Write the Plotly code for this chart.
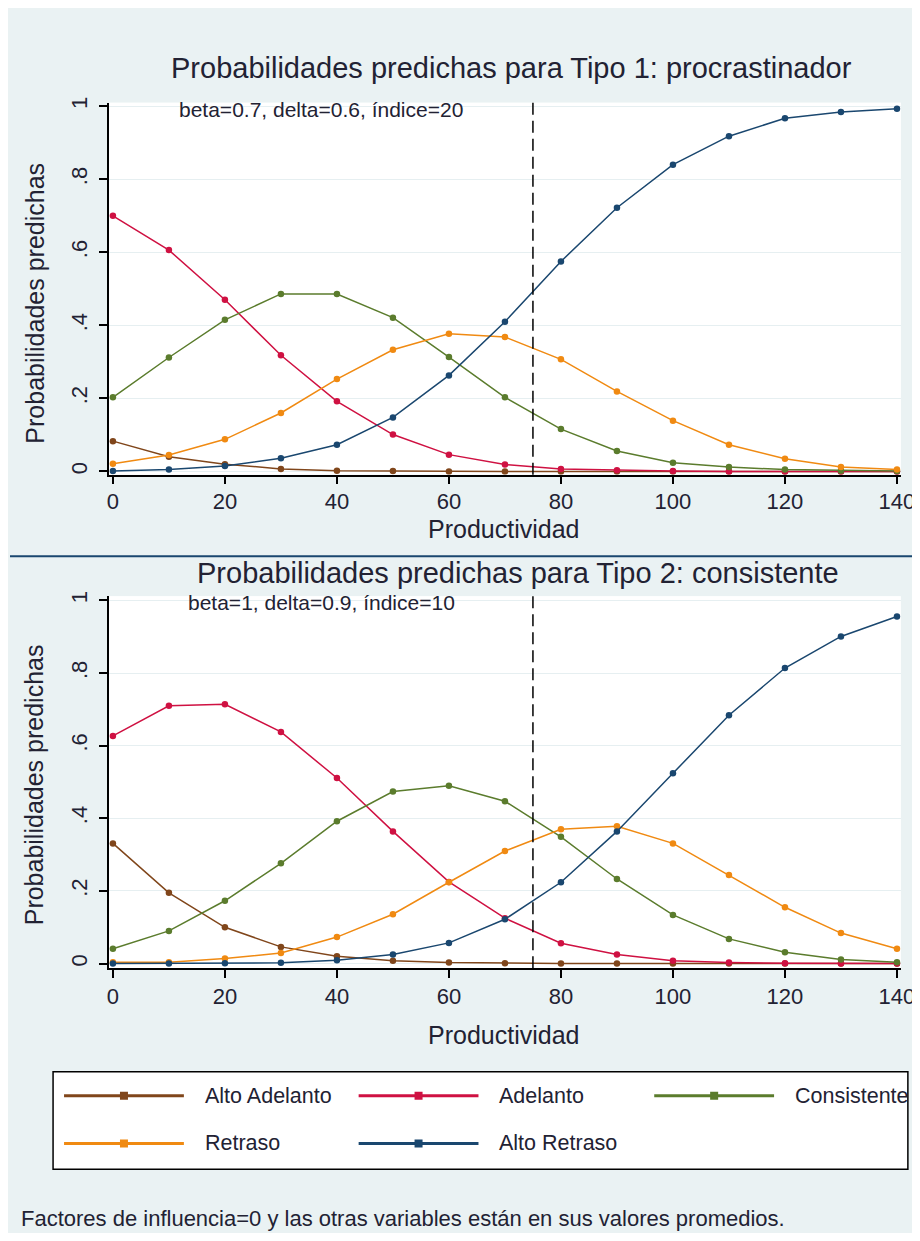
import plotly.graph_objects as go

# ---------------- data ----------------
productividad = [0, 10, 20, 30, 40, 50, 60, 70, 80, 90, 100, 110, 120, 130, 140]

series_names = ["Alto Adelanto", "Adelanto", "Consistente", "Retraso", "Alto Retraso"]
series_colors = ["#80461b", "#cf1142", "#5b7c2d", "#f08a12", "#1a476f"]

# Tipo 1: procrastinador
t1_alto_adelanto = [0.083, 0.040, 0.020, 0.007, 0.002, 0.001, 0.000, 0.000, 0.000, 0.000, 0.000, 0.000, 0.000, 0.000, 0.000]
t1_adelanto      = [0.700, 0.606, 0.470, 0.318, 0.192, 0.101, 0.046, 0.019, 0.007, 0.003, 0.001, 0.000, 0.000, 0.000, 0.000]
t1_consistente   = [0.203, 0.312, 0.415, 0.486, 0.486, 0.421, 0.313, 0.203, 0.116, 0.056, 0.024, 0.012, 0.005, 0.002, 0.001]
t1_retraso       = [0.021, 0.045, 0.088, 0.160, 0.253, 0.333, 0.377, 0.368, 0.307, 0.219, 0.139, 0.073, 0.035, 0.012, 0.005]
t1_alto_retraso  = [0.001, 0.005, 0.015, 0.036, 0.073, 0.148, 0.263, 0.410, 0.575, 0.722, 0.840, 0.918, 0.967, 0.984, 0.993]

# Tipo 2: consistente
t2_alto_adelanto = [0.331, 0.195, 0.100, 0.046, 0.020, 0.008, 0.003, 0.001, 0.000, 0.000, 0.000, 0.000, 0.000, 0.000, 0.000]
t2_adelanto      = [0.627, 0.710, 0.714, 0.638, 0.511, 0.364, 0.225, 0.125, 0.056, 0.025, 0.008, 0.003, 0.001, 0.000, 0.000]
t2_consistente   = [0.041, 0.090, 0.173, 0.276, 0.392, 0.474, 0.490, 0.447, 0.349, 0.233, 0.134, 0.068, 0.031, 0.011, 0.004]
t2_retraso       = [0.004, 0.004, 0.014, 0.029, 0.073, 0.136, 0.224, 0.310, 0.370, 0.378, 0.331, 0.244, 0.155, 0.084, 0.041]
t2_alto_retraso  = [0.000, 0.000, 0.001, 0.002, 0.009, 0.025, 0.057, 0.122, 0.224, 0.364, 0.524, 0.684, 0.814, 0.901, 0.956]

x_ticks = [0, 20, 40, 60, 80, 100, 120, 140]
y_ticks = [0, 0.2, 0.4, 0.6, 0.8, 1]
y_ticktext = ["0", ".2", ".4", ".6", ".8", "1"]
ref_line_x = 75

title_1 = "Probabilidades predichas para Tipo 1: procrastinador"
title_2 = "Probabilidades predichas para Tipo 2: consistente"
note_1 = "beta=0.7, delta=0.6, índice=20"
note_2 = "beta=1, delta=0.9, índice=10"
x_title = "Productividad"
y_title = "Probabilidades predichas"
footnote = "Factores de influencia=0 y las otras variables están en sus valores promedios."

# ---------------- figure ----------------
# the page lays out ~935 css px wide and is photographed at 920 px wide
OFF = 8
PAGE_W, SHOT_W = 935, 920
FIG_W, FIG_H = PAGE_W - 2 * OFF, 1241 - 2 * OFF
FONT = "Liberation Sans, Arial, sans-serif"
TXT = "#222233"
BG = "#eaf2f3"


def px(x):
    """picture pixel x -> paper fraction"""
    return (x * PAGE_W / SHOT_W - OFF) / FIG_W


def py(y):
    """picture pixel y -> paper fraction"""
    return 1 - (y - OFF) / FIG_H


fig = go.Figure()

panel_series = [
    ("x", "y", [t1_alto_adelanto, t1_adelanto, t1_consistente, t1_retraso, t1_alto_retraso]),
    ("x2", "y2", [t2_alto_adelanto, t2_adelanto, t2_consistente, t2_retraso, t2_alto_retraso]),
]
for xa, ya, vals in panel_series:
    for name, color, v in zip(series_names, series_colors, vals):
        fig.add_trace(go.Scatter(
            x=productividad, y=v, name=name, mode="lines+markers",
            line=dict(color=color, width=1.5),
            marker=dict(color=color, size=6.5, symbol="circle"),
            xaxis=xa, yaxis=ya, showlegend=False,
        ))

# custom Stata-style legend in its own axes (picture-pixel coordinates)
leg_left, leg_right, leg_top, leg_bottom = 51, 907, 1071, 1169
leg_cols = [62, 357, 653]
leg_rows = [1095, 1143]
for i, (name, color) in enumerate(zip(series_names, series_colors)):
    cx = leg_cols[i % 3]
    ry = leg_rows[i // 3]
    fig.add_trace(go.Scatter(
        x=[cx, cx + 120], y=[ry, ry], mode="lines",
        line=dict(color=color, width=3), xaxis="x3", yaxis="y3",
        showlegend=False, hoverinfo="skip",
    ))
    fig.add_trace(go.Scatter(
        x=[cx + 60], y=[ry], mode="markers",
        marker=dict(color=color, size=8, symbol="square"), xaxis="x3", yaxis="y3",
        showlegend=False, hoverinfo="skip",
    ))
    fig.add_annotation(x=cx + 139, y=ry, xref="x3", yref="y3", text=name,
                       showarrow=False, xanchor="left", yanchor="middle",
                       font=dict(family=FONT, size=21.5, color=TXT))

xdom = [px(107), px(900)]
top_dom = [py(471), py(97)]
bot_dom = [py(967), py(593)]

axis_common = dict(showline=True, linecolor="black", linewidth=1.5, ticks="outside",
                   ticklen=8, tickwidth=1.5, tickcolor="black", zeroline=False,
                   tickfont=dict(family=FONT, size=22, color=TXT))

fig.update_layout(
    width=FIG_W, height=FIG_H,
    margin=dict(l=0, r=0, t=0, b=0),
    paper_bgcolor=BG, plot_bgcolor="white",
    font=dict(family=FONT, color=TXT),
    showlegend=False,
    xaxis=dict(domain=xdom, anchor="y", range=[-0.7, 140.7], tickvals=x_ticks,
               showgrid=False, ticklabeloverflow="allow", ticklabelstandoff=-2,
               **axis_common),
    yaxis=dict(domain=top_dom, anchor="x", range=[-0.009, 1.01], tickvals=y_ticks,
               ticktext=y_ticktext, tickangle=-90, showgrid=True, gridcolor="#e6eff1",
               gridwidth=1, ticklabelstandoff=3, **axis_common),
    xaxis2=dict(domain=xdom, anchor="y2", range=[-0.7, 140.7], tickvals=x_ticks,
                showgrid=False, ticklabeloverflow="allow", **axis_common),
    yaxis2=dict(domain=bot_dom, anchor="x2", range=[-0.013, 1.012], tickvals=y_ticks,
                ticktext=y_ticktext, tickangle=-90, showgrid=True, gridcolor="#e6eff1",
                gridwidth=1, ticklabelstandoff=3, **axis_common),
    xaxis3=dict(domain=[px(leg_left), px(leg_right)], anchor="y3",
                range=[leg_left, leg_right], visible=False),
    yaxis3=dict(domain=[py(leg_bottom), py(leg_top)], anchor="x3",
                range=[leg_bottom, leg_top], visible=False),
)

shapes = [
    # separator between panels
    dict(type="line", xref="paper", yref="paper", x0=0, x1=1, y0=py(553), y1=py(553),
         line=dict(color="#1a476f", width=2)),
    # legend box
    dict(type="rect", xref="paper", yref="paper", x0=px(leg_left), x1=px(leg_right),
         y0=py(leg_bottom), y1=py(leg_top),
         line=dict(color="black", width=1.5), fillcolor="rgba(0,0,0,0)"),
    # reference lines
    dict(type="line", xref="x", yref="y domain", x0=ref_line_x, x1=ref_line_x, y0=0, y1=1,
         line=dict(color="black", width=1.5, dash="12px,6px")),
    dict(type="line", xref="x2", yref="y2 domain", x0=ref_line_x, x1=ref_line_x, y0=0, y1=1,
         line=dict(color="black", width=1.5, dash="12px,6px")),
]
fig.update_layout(shapes=shapes)

ann = [
    dict(x=px(510), y=py(62), text=title_1, size=29, xanchor="center", angle=0),
    dict(x=px(517), y=py(570), text=title_2, size=29, xanchor="center", angle=0),
    dict(x=px(175), y=py(104), text=note_1, size=21, xanchor="left", angle=0),
    dict(x=px(184), y=py(599), text=note_2, size=21, xanchor="left", angle=0),
    dict(x=px(502), y=py(526), text=x_title, size=25, xanchor="center", angle=0),
    dict(x=px(502), y=py(1034), text=x_title, size=25, xanchor="center", angle=0),
    dict(x=px(32), y=py(299), text=y_title, size=25, xanchor="center", angle=-90),
    dict(x=px(32), y=py(783), text=y_title, size=25, xanchor="center", angle=-90),
    dict(x=px(17), y=py(1218), text=footnote, size=22, xanchor="left", angle=0),
]
for a in ann:
    fig.add_annotation(x=a["x"], y=a["y"], xref="paper", yref="paper", text=a["text"],
                       showarrow=False, xanchor=a["xanchor"], yanchor="middle",
                       textangle=a["angle"],
                       font=dict(family=FONT, size=a["size"], color=TXT))

fig.write_html("out.html", config={"displayModeBar": False})
